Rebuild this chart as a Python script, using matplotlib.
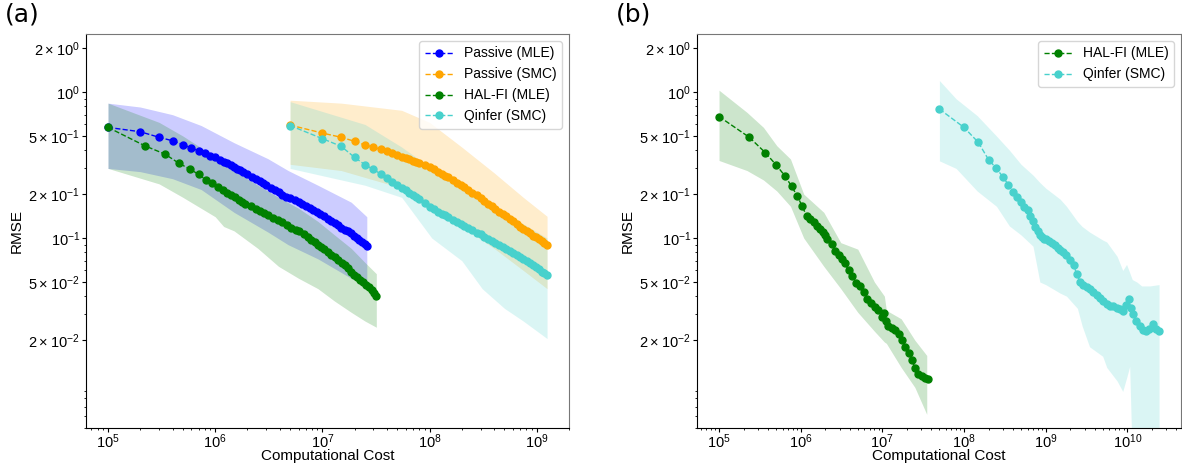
#plot RMSE vs computational cost for the two experiments
import matplotlib
matplotlib.use("Agg")
import matplotlib.pyplot as plt
from matplotlib.ticker import FixedLocator, FuncFormatter
import numpy as np

plt.rcParams["font.family"] = ["Liberation Sans", "DejaVu Sans"]
plt.rcParams["mathtext.default"] = "regular"

BLUE = "blue"
ORANGE = "orange"
GREEN = "green"
CYAN = "mediumturquoise"

#panel (a) - passive MLE, cost in units of 1e5
passive_mle_k = [1, 2, 3, 4, 5, 6, 7, 8, 9, 10, 11, 12, 13, 14, 15, 16, 17, 18,
                 20, 22, 24, 26, 28, 30, 33, 36, 39, 42, 46, 50, 55, 60, 65, 70,
                 76, 82, 89, 96, 104, 112, 121, 130, 140, 150, 161, 172, 184, 196,
                 209, 222, 236, 250, 260]
passive_mle_rmse = [.573, .535, .490, .464, .436, .414, .396, .382, .366, .357,
                    .342, .333, .325, .315, .305, .298, .291, .284,
                    .274, .264, .255, .247, .240, .232, .222, .214, .206, .198,
                    .192, .188, .183, .176, .170, .166, .160, .156, .151, .146,
                    .141, .136, .131, .127, .122, .118, .114, .111, .108, .104,
                    .100, .097, .094, .091, .088]
passive_mle_band_k = [1, 2, 4, 7.4, 15, 31, 48, 91, 186, 260]
passive_mle_hi = [.84, .79, .70, .59, .45, .35, .29, .23, .176, .14]
passive_mle_lo = [.30, .285, .255, .215, .15, .11, .09, .072, .053, .048]

#panel (a) - HAL-FI MLE, cost in units of 1e5
halfi_a_cost = [1, 2.2, 3.4, 4.6, 5.8, 7.0, 8.2, 9.4, 10.6, 11.8, 13, 14.2, 15.4,
                16.6, 17.8, 19, 21.4, 23.8, 26.2, 28.6, 31, 34.6, 38.2, 41.8,
                46.6, 51.4, 56.2, 61, 67, 73, 79, 85, 91, 97, 104.2, 112.6, 121,
                130.6, 140.2, 151, 161.8, 173.8, 185.8, 199, 212.2, 226.6, 241,
                256.6, 272.2, 289, 305.8, 319]
halfi_a_rmse = [.573, .429, .376, .325, .297, .273, .251, .237, .225, .214, .205,
                .197, .190, .183, .177, .172, .165, .159, .153, .148, .144, .138,
                .133, .128, .123, .118, .114, .111, .106, .101, .097, .094, .090,
                .087, .084, .080, .077, .074, .071, .068, .065, .062, .059, .056,
                .054, .052, .050, .048, .046, .044, .042, .0404]
halfi_a_band_cost = [1, 3, 5, 10, 12, 15, 25, 39, 60, 91, 130, 186, 250, 319]
halfi_a_hi = [.84, .62, .50, .36, .33, .29, .23, .19, .16, .13, .105, .085, .068, .057]
halfi_a_lo = [.30, .235, .19, .14, .12, .112, .085, .064, .053, .045, .037, .031, .027, .0245]

#panel (a) - SMC runs, cost in units of 5e6
smc_k = [1, 2, 3, 4, 5, 6, 7, 8, 9, 10, 11, 12, 13, 14, 15, 16,
         18, 20, 22, 24, 26, 28, 30, 33, 36, 39, 42, 46, 50, 55, 60, 65, 70,
         76, 82, 89, 96, 104, 112, 121, 130, 140, 150, 161, 172, 184, 196,
         209, 222, 236, 250]
passive_smc_rmse = [.594, .524, .490, .460, .434, .420, .405, .392, .380, .370,
                    .362, .354, .346, .339, .333, .327,
                    .316, .306, .295, .285, .276, .268, .260, .249, .240, .231,
                    .223, .214, .205, .196, .187, .179, .172, .165, .159, .152,
                    .147, .141, .136, .130, .125, .120, .116, .112, .108, .104,
                    .101, .098, .095, .092, .090]
qinfer_a_rmse = [.590, .480, .425, .357, .318, .295, .275, .258, .243, .231,
                 .221, .212, .204, .197, .190, .184,
                 .174, .163, .157, .152, .147, .143, .139, .134, .129, .125,
                 .121, .117, .113, .109, .106, .102, .099, .096, .093, .090,
                 .087, .084, .081, .079, .077, .074, .072, .070, .067, .065,
                 .063, .061, .059, .058, .056]
passive_smc_band_k = [1, 3, 11, 20, 40, 80, 150, 250]
passive_smc_hi = [.88, .84, .75, .62, .42, .28, .19, .141]
passive_smc_lo = [.32, .29, .22, .17, .12, .085, .06, .045]
qinfer_a_band_k = [1, 5, 11, 21, 40, 62, 100, 150, 250]
qinfer_a_hi = [.86, .60, .42, .30, .22, .18, .15, .125, .10]
qinfer_a_lo = [.30, .23, .19, .10, .07, .045, .033, .027, .0205]

#panel (b) - HAL-FI MLE, cost in units of 1e5
halfi_b_cost = [1, 2.35, 3.7, 5.05, 6.4, 7.75, 9.1, 10.45, 11.8, 13.15, 14.5,
                15.85, 17.2, 18.55, 19.9, 21.25, 24, 26.6, 29.3, 32, 34.8, 38.8,
                42.8, 48.2, 53.6, 59, 65.8, 72.5, 80.6, 88.7, 98.2, 104, 111,
                118.4, 130.6, 144, 158.9, 174, 191.5, 210.4, 231, 253, 277, 304,
                332, 360]
halfi_b_rmse = [.680, .490, .384, .315, .267, .226, .194, .165, .142, .135, .129,
                .121, .116, .110, .105, .099, .091, .082, .076, .072, .067, .060,
                .055, .049, .047, .043, .038, .036, .0335, .032, .029, .0305, .027,
                .025, .0242, .0233, .022, .020, .018, .0163, .0145, .0128, .0118,
                .0113, .0110, .0108]
halfi_b_band_cost = [1, 2.2, 3.5, 5.1, 7.5, 10.9, 19.2, 31, 50, 80, 106, 112, 170, 250, 350]
halfi_b_hi = [1.03, .726, .573, .429, .348, .20, .15, .093, .084, .05, .04, .032, .028, .02, .0157]
halfi_b_lo = [.34, .29, .25, .21, .165, .10, .064, .045, .031, .023, .0194, .019, .013, .0095, .0062]

#panel (b) - Qinfer SMC, cost in units of 5e7
qinfer_b_k = [1, 2, 3, 4, 5, 6, 7, 8, 9, 10, 11, 12, 13, 14, 15, 16, 17, 18, 19, 20,
              22, 24, 26, 28, 30, 33, 36, 40, 44, 48, 53, 58, 64, 70, 77, 85, 93,
              102, 112, 123, 135, 148, 162, 178, 195, 208, 220, 235, 258, 283,
              311, 341, 374, 410, 450, 490]
qinfer_b_rmse = [.765, .573, .452, .344, .300, .262, .232, .207, .190, .176, .164,
                 .156, .142, .130, .120, .111, .105, .101, .099, .098,
                 .096, .092, .089, .086, .083, .080, .076, .071, .065, .057,
                 .050, .048, .046, .045, .043, .041, .039,
                 .037, .0355, .034, .0345, .033, .0325, .0318, .035, .038, .033,
                 .030, .027, .025, .0235, .023, .024, .0258, .024, .0232]
qinfer_b_band_k = [1, 1.6, 2.9, 5, 7.2, 10, 14, 17, 20, 30, 36, 49, 56, 69, 100,
                   112, 150, 176, 196, 214, 230, 262, 300, 378, 490]
qinfer_b_hi = [1.2, .9, .69, .5, .4, .32, .27, .24, .22, .185, .165, .13, .12, .11,
               .097, .094, .075, .06, .066, .058, .052, .05, .047, .047, .048]
qinfer_b_lo = [.338, .30, .21, .165, .121, .105, .088, .05, .048, .042, .04, .033,
               .025, .018, .0155, .013, .0105, .0089, .011, .0132, .003, .003,
               .003, .003, .003]

y_ticks = [2e-2, 5e-2, 1e-1, 2e-1, 5e-1, 1, 2]


def sci_label(v, pos):
    e = int(np.floor(np.log10(v) + 1e-9))
    c = int(round(v / 10.0**e))
    if c == 1:
        return r"$\mathdefault{10^{%d}}$" % e
    return r"$\mathdefault{%d\times10^{%d}}$" % (c, e)


def series(ax, cost, rmse, bcost, lo, hi, color, label):
    ax.fill_between(bcost, lo, hi, color=color, alpha=0.2, linewidth=0)
    ax.plot(cost, rmse, "--o", color=color, lw=1, ms=5, label=label)


def style(ax):
    ax.set_xscale("log")
    ax.set_yscale("log")
    ax.set_ylim(5e-3, 2.5)
    ax.yaxis.set_major_locator(FixedLocator(y_ticks))
    ax.yaxis.set_major_formatter(FuncFormatter(sci_label))
    ax.tick_params(labelsize=10.5, pad=1.5)
    ax.tick_params(axis="x", pad=0.5)
    ax.tick_params(which="major", length=2.8)
    ax.tick_params(which="minor", length=1.6)
    ax.set_xlabel("Computational Cost", fontsize=11, labelpad=-1.5)
    ax.set_ylabel("RMSE", fontsize=11, labelpad=3)
    for s in ["top", "right"]:
        ax.spines[s].set_color("#777777")


fig = plt.figure(figsize=(11.82, 4.63), dpi=100)
ax1 = fig.add_axes([0.0728, 0.0756, 0.4086, 0.851])
ax2 = fig.add_axes([0.5897, 0.0756, 0.4095, 0.851])

e5 = 1e5
series(ax1, np.array(passive_mle_k) * e5, passive_mle_rmse,
       np.array(passive_mle_band_k) * e5, passive_mle_lo, passive_mle_hi, BLUE, "Passive (MLE)")
series(ax1, np.array(smc_k) * 5e6, passive_smc_rmse,
       np.array(passive_smc_band_k) * 5e6, passive_smc_lo, passive_smc_hi, ORANGE, "Passive (SMC)")
series(ax1, np.array(halfi_a_cost) * e5, halfi_a_rmse,
       np.array(halfi_a_band_cost) * e5, halfi_a_lo, halfi_a_hi, GREEN, "HAL-FI (MLE)")
series(ax1, np.array(smc_k) * 5e6, qinfer_a_rmse,
       np.array(qinfer_a_band_k) * 5e6, qinfer_a_lo, qinfer_a_hi, CYAN, "Qinfer (SMC)")

series(ax2, np.array(halfi_b_cost) * e5, halfi_b_rmse,
       np.array(halfi_b_band_cost) * e5, halfi_b_lo, halfi_b_hi, GREEN, "HAL-FI (MLE)")
series(ax2, np.array(qinfer_b_k) * 5e7, qinfer_b_rmse,
       np.array(qinfer_b_band_k) * 5e7, qinfer_b_lo, qinfer_b_hi, CYAN, "Qinfer (SMC)")

for ax in (ax1, ax2):
    style(ax)
    ax.legend(loc="upper right", fontsize=10)

fig.text(0.004, 0.995, "(a)", fontsize=18, va="top", family="DejaVu Sans")
fig.text(0.521, 0.995, "(b)", fontsize=18, va="top", family="DejaVu Sans")

fig.savefig("out.png", dpi=100)
